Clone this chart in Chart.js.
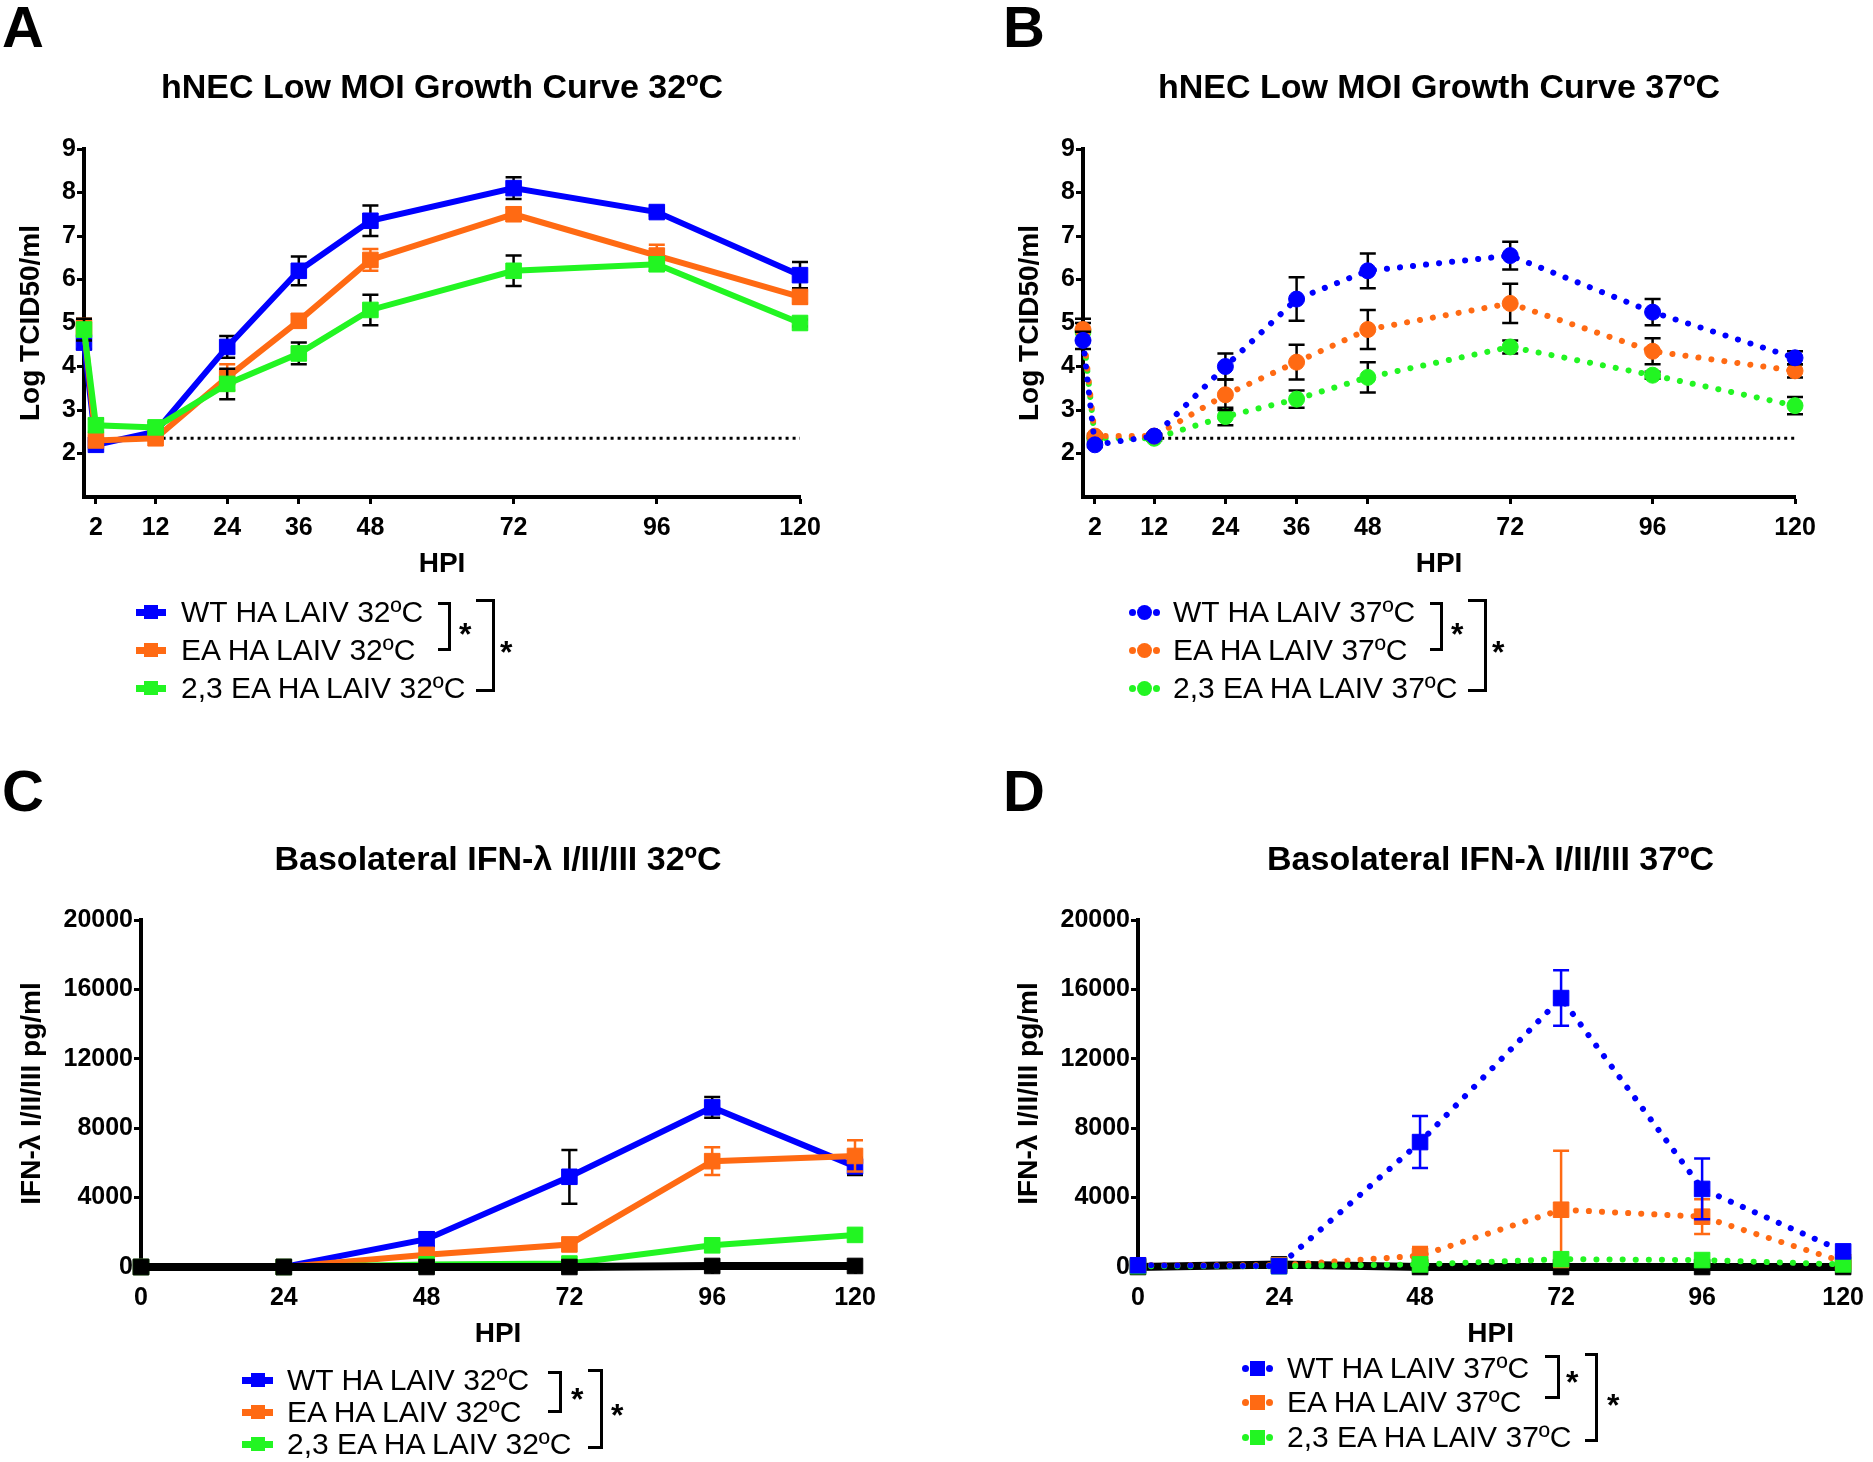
<!DOCTYPE html>
<html>
<head>
<meta charset="utf-8">
<title>hNEC growth curves and basolateral IFN-λ</title>
<script src="https://cdn.jsdelivr.net/npm/chart.js@4.4.1/dist/chart.umd.min.js"></script>
<style>
    html, body { margin: 0; padding: 0; background: #fff; }
    #page { position: relative; width: 1873px; height: 1462px; overflow: hidden;
            font-family: 'Liberation Sans', Arial, Helvetica, sans-serif; color: #000; }
    #page canvas { position: absolute; }
    .letter { position: absolute; font-size: 58px; font-weight: bold; line-height: 1; }
    .lg { position: absolute; z-index: 2; }
</style>
</head>
<body>
<div id="page">
    <div class="letter" style="left:2px;top:-2px">A</div>
    <div class="letter" style="left:1003px;top:-2px">B</div>
    <div class="letter" style="left:2px;top:762px">C</div>
    <div class="letter" style="left:1003px;top:762px">D</div>
    <canvas id="chartA" width="900" height="570" style="left:0;top:40px"></canvas>
    <canvas id="chartB" width="913" height="570" style="left:960px;top:40px"></canvas>
    <canvas id="chartC" width="900" height="600" style="left:0;top:780px"></canvas>
    <canvas id="chartD" width="913" height="600" style="left:960px;top:780px"></canvas>
</div>
<script>
'use strict';

// growth curves (panels A and B)
var growthHours = [0, 2, 12, 24, 36, 48, 72, 96, 120];
var growthTicks = [2, 12, 24, 36, 48, 72, 96, 120];
var logTicks = [2, 3, 4, 5, 6, 7, 8, 9];
var detectionHours = [12, 120];
var detectionLimit = [2.35, 2.35];

var wt32 = [4.55, 2.2, 2.5, 4.45, 6.2, 7.35, 8.1, 7.55, 6.1];
var wt32Err = [0.15, 0.08, 0.08, 0.25, 0.33, 0.35, 0.25, 0.08, 0.3];
var ea32 = [4.9, 2.3, 2.35, 3.75, 5.05, 6.45, 7.5, 6.55, 5.6];
var ea32Err = [0.2, 0.1, 0.05, 0.3, 0.15, 0.25, 0.15, 0.25, 0.15];
var sa32 = [4.85, 2.65, 2.6, 3.6, 4.3, 5.3, 6.2, 6.35, 5.0];
var sa32Err = [0.25, 0.15, 0.12, 0.35, 0.25, 0.35, 0.35, 0.15, 0.08];

var wt37 = [4.6, 2.2, 2.4, 4.0, 5.55, 6.2, 6.55, 5.25, 4.2];
var wt37Err = [0.2, 0.05, 0.05, 0.3, 0.5, 0.4, 0.32, 0.3, 0.15];
var ea37 = [4.85, 2.4, 2.4, 3.35, 4.1, 4.85, 5.45, 4.35, 3.9];
var ea37Err = [0.25, 0.05, 0.05, 0.35, 0.4, 0.45, 0.45, 0.3, 0.15];
var sa37 = [4.8, 2.35, 2.35, 2.85, 3.25, 3.75, 4.45, 3.8, 3.1];
var sa37Err = [0.2, 0.05, 0.05, 0.2, 0.2, 0.35, 0.15, 0.08, 0.2];

// basolateral IFN-lambda (panels C and D)
var ifnHours = [0, 24, 48, 72, 96, 120];
var ifnTicksX = [0, 24, 48, 72, 96, 120];
var ifnTicksY = [0, 4000, 8000, 12000, 16000, 20000];

var wtIfn32 = [0, 0, 1600, 5200, 9200, 5800];
var wtIfn32Err = [0, 0, 400, 1550, 600, 500];
var eaIfn32 = [0, 0, 700, 1300, 6100, 6400];
var eaIfn32Err = [0, 0, 0, 0, 800, 900];
var saIfn32 = [0, 0, 150, 200, 1250, 1850];
var mockIfn32 = [0, 0, 0, 0, 60, 60];

var wtIfn37 = [100, 50, 7200, 15500, 4500, 900];
var wtIfn37Err = [0, 0, 1500, 1600, 1750, 0];
var eaIfn37 = [100, 100, 650, 3300, 2900, 300];
var eaIfn37Err = [0, 0, 500, 3400, 1000, 0];
var saIfn37 = [50, 50, 150, 450, 400, 150];
var mockIfn37 = [0, 150, 0, 0, 0, 0];

var labels32 = ['WT HA LAIV 32ºC', 'EA HA LAIV 32ºC', '2,3 EA HA LAIV 32ºC'];
var labels37 = ['WT HA LAIV 37ºC', 'EA HA LAIV 37ºC', '2,3 EA HA LAIV 37ºC'];

var BLUE = '#0000ff', ORANGE = '#ff6a13', GREEN = '#22f522', BLACK = '#000000';
var FONT = "'Liberation Sans', Arial, Helvetica, sans-serif";

function points(xs, ys) {
    return xs.map(function(x, i) { return { x: x, y: ys[i] }; });
}

function series(xs, ys, errs, color, opts) {
    return {
        data: points(xs, ys),
        borderColor: color,
        backgroundColor: color,
        pointBackgroundColor: color,
        pointBorderColor: color,
        borderWidth: opts.width || 6,
        borderDash: opts.dotted ? [0.1, 13] : [],
        borderCapStyle: opts.dotted ? 'round' : 'butt',
        pointStyle: opts.marker || 'rect',
        pointRadius: opts.radius || 11,
        pointBorderWidth: 1,
        tension: 0,
        clip: false,
        order: opts.order,
        errors: errs,
        errorColor: opts.errorColor || BLACK
    };
}

function detectionLine() {
    return {
        data: points(detectionHours, detectionLimit),
        borderColor: BLACK,
        borderWidth: 3,
        borderDash: [3, 4],
        pointRadius: 0,
        clip: false,
        order: 9
    };
}

// error bars go under each dataset so its own markers sit on top
var errorBars = {
    id: 'errorBars',
    beforeDatasetDraw: function(chart, args) {
        var ds = chart.data.datasets[args.index];
        if (!ds.errors) return;
        var y = chart.scales.y, ctx = chart.ctx;
        ctx.save();
        ctx.strokeStyle = ds.errorColor;
        ctx.lineWidth = 2.5;
        args.meta.data.forEach(function(pt, j) {
            var e = ds.errors[j];
            if (!e) return;
            var v = ds.data[j].y;
            var top = y.getPixelForValue(v + e);
            var bottom = y.getPixelForValue(Math.max(v - e, y.min));
            ctx.beginPath();
            ctx.moveTo(pt.x, top); ctx.lineTo(pt.x, bottom);
            ctx.moveTo(pt.x - 8, top); ctx.lineTo(pt.x + 8, top);
            ctx.moveTo(pt.x - 8, bottom); ctx.lineTo(pt.x + 8, bottom);
            ctx.stroke();
        });
        ctx.restore();
    }
};

function axis(min, max, tickVals, titleText, horizontal) {
    return {
        type: 'linear',
        min: min,
        max: max,
        afterBuildTicks: function(scale) {
            scale.ticks = tickVals.map(function(v) { return { value: v }; });
        },
        ticks: {
            color: BLACK,
            font: { family: FONT, size: 25, weight: 'bold' },
            padding: horizontal ? 9 : 1,
            maxRotation: 0,
            autoSkip: false,
            callback: function(v) { return String(v); }
        },
        grid: { display: true, drawOnChartArea: false, drawTicks: true, tickLength: 7, tickWidth: 3, tickColor: BLACK, color: BLACK },
        border: { display: true, color: BLACK, width: 4 },
        title: {
            display: true,
            text: titleText,
            color: BLACK,
            font: { family: FONT, size: 28, weight: 'bold', lineHeight: horizontal ? 0.9 : 1.2 },
            padding: horizontal ? { top: 0, bottom: 0 } : { top: 7, bottom: 13 }
        }
    };
}

// nudge paddings until the plot area sits where the reference has it
function fitArea(chart, options, target) {
    for (var k = 0; k < 4; k++) {
        var a = chart.chartArea;
        options.layout.padding.left += target.left - a.left;
        options.layout.padding.right += a.right - target.right;
        options.layout.padding.bottom += a.bottom - target.bottom;
        options.plugins.title.padding.bottom += target.top - a.top;
        chart.update('none');
    }
}

function panel(id, target, titleText, titleTop, xTicks, yMin, yMax, yTicks, yTitle, datasets) {
    var options = {
        responsive: false,
        animation: false,
        devicePixelRatio: 1,
        layout: { padding: { left: 10, right: 40, top: 0, bottom: 40 } },
        plugins: {
            legend: { display: false },
            tooltip: { enabled: false },
            title: {
                display: true,
                text: titleText,
                fullSize: false,
                color: BLACK,
                font: { family: FONT, size: 34, weight: 'bold' },
                padding: { top: titleTop, bottom: 40 }
            }
        },
        scales: {
            x: axis(0, 120, xTicks, 'HPI', true),
            y: axis(yMin, yMax, yTicks, yTitle, false)
        }
    };
    var chart = new Chart(document.getElementById(id), {
        type: 'line',
        data: { datasets: datasets },
        options: options,
        plugins: [errorBars]
    });
    fitArea(chart, options, target);
    return chart;
}

panel('chartA', { left: 84, top: 109, right: 800, bottom: 457 },
    'hNEC Low MOI Growth Curve 32ºC', 28, growthTicks, 1, 9, logTicks, 'Log TCID50/ml', [
        detectionLine(),
        series(growthHours, wt32, wt32Err, BLUE, { order: 3 }),
        series(growthHours, ea32, ea32Err, ORANGE, { order: 2, errorColor: ORANGE }),
        series(growthHours, sa32, sa32Err, GREEN, { order: 1 })
    ]);

panel('chartB', { left: 123, top: 109, right: 835, bottom: 457 },
    'hNEC Low MOI Growth Curve 37ºC', 28, growthTicks, 1, 9, logTicks, 'Log TCID50/ml', [
        detectionLine(),
        series(growthHours, sa37, sa37Err, GREEN, { order: 3, dotted: true, marker: 'circle', radius: 8 }),
        series(growthHours, ea37, ea37Err, ORANGE, { order: 2, dotted: true, marker: 'circle', radius: 8 }),
        series(growthHours, wt37, wt37Err, BLUE, { order: 1, dotted: true, marker: 'circle', radius: 8 })
    ]);

panel('chartC', { left: 141, top: 140, right: 855, bottom: 487 },
    'Basolateral IFN-λ I/II/III 32ºC', 60, ifnTicksX, 0, 20000, ifnTicksY, 'IFN-λ I/II/III pg/ml', [
        series(ifnHours, mockIfn32, null, BLACK, { order: 0, width: 8 }),
        series(ifnHours, wtIfn32, wtIfn32Err, BLUE, { order: 3 }),
        series(ifnHours, eaIfn32, eaIfn32Err, ORANGE, { order: 2, errorColor: ORANGE }),
        series(ifnHours, saIfn32, null, GREEN, { order: 1 })
    ]);

panel('chartD', { left: 178, top: 140, right: 890, bottom: 487 },
    'Basolateral IFN-λ I/II/III 37ºC', 60, ifnTicksX, 0, 20000, ifnTicksY, 'IFN-λ I/II/III pg/ml', [
        series(ifnHours, mockIfn37, null, BLACK, { order: 5, width: 8 }),
        series(ifnHours, eaIfn37, eaIfn37Err, ORANGE, { order: 3, dotted: true, errorColor: ORANGE }),
        series(ifnHours, saIfn37, null, GREEN, { order: 2, dotted: true }),
        series(ifnHours, wtIfn37, wtIfn37Err, BLUE, { order: 1, dotted: true, errorColor: BLUE })
    ]);

// legends with the significance brackets
function box(css, text) {
    var d = document.createElement('div');
    d.className = 'lg';
    d.style.cssText = css;
    if (text) d.textContent = text;
    document.getElementById('page').appendChild(d);
    return d;
}

function legend(spec) {
    var cx = (spec.mark[0] + spec.mark[1]) / 2;
    spec.labels.forEach(function(text, i) {
        var cy = spec.rows[i], c = spec.colors[i], s = spec.size;
        if (spec.dotted) {
            [-12, 12].forEach(function(dx) {
                box('left:' + (cx + dx - 3.5) + 'px;top:' + (cy - 3.5) + 'px;width:7px;height:7px;border-radius:50%;background:' + c);
            });
        } else {
            box('left:' + spec.mark[0] + 'px;top:' + (cy - 3.5) + 'px;width:' + (spec.mark[1] - spec.mark[0]) + 'px;height:7px;background:' + c);
        }
        box('left:' + (cx - s / 2) + 'px;top:' + (cy - s / 2) + 'px;width:' + s + 'px;height:' + s + 'px;background:' + c +
            (spec.round ? ';border-radius:50%' : ''));
        box('left:' + spec.textX + 'px;top:' + (cy - 15) + 'px;font-size:30px;line-height:30px;white-space:nowrap', text);
    });
    spec.brackets.forEach(function(b) {
        box('left:' + b.x0 + 'px;top:' + b.top + 'px;width:' + (b.x1 - b.x0 - 3) + 'px;height:' + (b.bottom - b.top - 3) +
            'px;border:3px solid #000;border-left:none');
        box('left:' + (b.sx - 6) + 'px;top:' + (b.sy - 9) + 'px;font-size:32px;font-weight:bold;line-height:32px', '*');
    });
}

legend({ labels: labels32, colors: [BLUE, ORANGE, GREEN], mark: [136, 166], textX: 181, rows: [612, 650, 688], size: 14,
    brackets: [{ x0: 438, x1: 451, top: 602, bottom: 648, sx: 465, sy: 627 },
               { x0: 476, x1: 495, top: 599, bottom: 689, sx: 506, sy: 645 }] });

legend({ labels: labels37, colors: [BLUE, ORANGE, GREEN], mark: [1128, 1160], textX: 1173, rows: [612, 650, 688], size: 15,
    dotted: true, round: true,
    brackets: [{ x0: 1430, x1: 1443, top: 602, bottom: 648, sx: 1457, sy: 627 },
               { x0: 1468, x1: 1487, top: 599, bottom: 689, sx: 1498, sy: 645 }] });

legend({ labels: labels32, colors: [BLUE, ORANGE, GREEN], mark: [242, 273], textX: 287, rows: [1380, 1412, 1444], size: 14,
    brackets: [{ x0: 548, x1: 562, top: 1371, bottom: 1410, sx: 577, sy: 1392 },
               { x0: 588, x1: 603, top: 1369, bottom: 1446, sx: 617, sy: 1408 }] });

legend({ labels: labels37, colors: [BLUE, ORANGE, GREEN], mark: [1242, 1273], textX: 1287, rows: [1368, 1402, 1437], size: 15,
    dotted: true,
    brackets: [{ x0: 1545, x1: 1560, top: 1355, bottom: 1396, sx: 1572, sy: 1375 },
               { x0: 1585, x1: 1598, top: 1353, bottom: 1439, sx: 1613, sy: 1398 }] });
</script>
</body>
</html>
